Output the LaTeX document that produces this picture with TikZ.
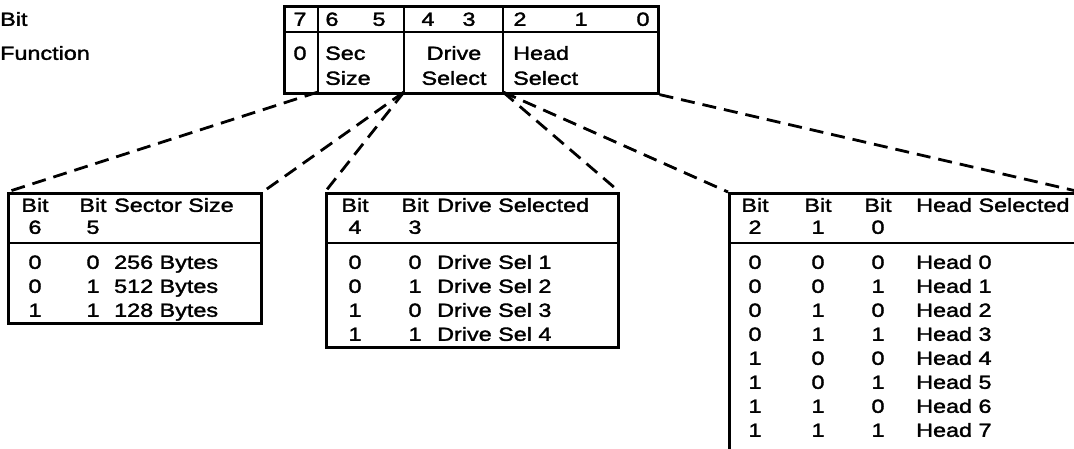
\documentclass[tikz,border=0pt]{standalone}
\usepackage{fontspec}
\newfontfamily\hv[FakeStretch=1.23,FakeBold=1.8]{Liberation Sans}
\begin{document}
\begin{tikzpicture}[x=1pt,y=-1pt,
  lbl/.style={font=\hv\fontsize{19}{22}\selectfont, inner sep=0pt, text height=13.6pt, text depth=0pt},
  lw/.style={lbl, anchor=west},
  lc/.style={lbl, anchor=center},
  frame/.style={draw, line width=2.6pt, inner sep=0pt, anchor=north west},
  rule/.style={line width=2.2pt},
  conn/.style={line width=2.8pt, dash pattern=on 14pt off 8pt}]
\useasboundingbox (0,0) rectangle (1074,448);

% labels on the left
\node[lw] (lbit) at (0,19) {Bit};
\node[lw] (lfun) at (0,53) {Function};

% register
\node[frame, minimum width=374pt, minimum height=87pt] (reg) at (283,5) {};
\coordinate (d1t) at (318,5);  \coordinate (d1b) at (318,92);
\coordinate (d2t) at (404,5);  \coordinate (d2b) at (404,92);
\coordinate (d3t) at (503,5);  \coordinate (d3b) at (503,92);
\coordinate (rl) at (283,32);  \coordinate (rr) at (657,32);
\draw[rule] (d1t) -- (d1b);
\draw[rule] (d2t) -- (d2b);
\draw[rule] (d3t) -- (d3b);
\draw[rule] (rl) -- (rr);

\node[lc] (b7) at (300,19) {7};
\node[lc] (b6) at (332,19) {6};
\node[lc] (b5) at (379,19) {5};
\node[lc] (b4) at (428,19) {4};
\node[lc] (b3) at (469,19) {3};
\node[lc] (b2) at (520,19) {2};
\node[lc] (b1) at (581,19) {1};
\node[lc] (b0) at (643,19) {0};

\node[lc] (f7) at (300,53) {0};
\node[lw] (fsec) at (325,53) {Sec};
\node[lw] (fsize) at (325,78) {Size};
\node[lc] (fdrv) at (454,53) {Drive};
\node[lc] (fdsel) at (454,78) {Select};
\node[lw] (fhead) at (513,53) {Head};
\node[lw] (fhsel) at (513,78) {Select};

% sector size table
\node[frame, minimum width=253pt, minimum height=130pt] (sec) at (7,192) {};
\coordinate (sl) at (7,243); \coordinate (sr) at (260,243);
\draw[rule] (sl) -- (sr);
\node[lc] (s11) at (35,205) {Bit};
\node[lc] (s12) at (93,205) {Bit};
\node[lw] (s13) at (114,205) {Sector Size};
\node[lc] (s21) at (35,227) {6};
\node[lc] (s22) at (93,227) {5};
\foreach \a/\b/\t [count=\i from 0] in {0/0/256 Bytes, 0/1/512 Bytes, 1/1/128 Bytes}{
  \node[lc] (sa\i) at (35,262+24*\i) {\a};
  \node[lc] (sb\i) at (93,262+24*\i) {\b};
  \node[lw] (st\i) at (114,262+24*\i) {\t};
}

% drive select table
\node[frame, minimum width=292pt, minimum height=154pt] (drv) at (325,192) {};
\coordinate (dl) at (325,243); \coordinate (dr) at (617,243);
\draw[rule] (dl) -- (dr);
\node[lc] (r11) at (355,205) {Bit};
\node[lc] (r12) at (415,205) {Bit};
\node[lw] (r13) at (437,205) {Drive Selected};
\node[lc] (r21) at (355,227) {4};
\node[lc] (r22) at (415,227) {3};
\foreach \a/\b/\t [count=\i from 0] in {0/0/Drive Sel 1, 0/1/Drive Sel 2, 1/0/Drive Sel 3, 1/1/Drive Sel 4}{
  \node[lc] (ra\i) at (355,262+24*\i) {\a};
  \node[lc] (rb\i) at (415,262+24*\i) {\b};
  \node[lw] (rt\i) at (437,262+24*\i) {\t};
}

% head select table
\node[frame, minimum width=350pt, minimum height=270pt] (hd) at (728,192) {};
\coordinate (hl) at (728,243); \coordinate (hr) at (1078,243);
\draw[rule] (hl) -- (hr);
\node[lc] (h11) at (755,205) {Bit};
\node[lc] (h12) at (818,205) {Bit};
\node[lc] (h13) at (878,205) {Bit};
\node[lw] (h14) at (916,205) {Head Selected};
\node[lc] (h21) at (755,227) {2};
\node[lc] (h22) at (818,227) {1};
\node[lc] (h23) at (878,227) {0};
\foreach \a/\b/\c/\t [count=\i from 0] in {0/0/0/Head 0, 0/0/1/Head 1, 0/1/0/Head 2, 0/1/1/Head 3, 1/0/0/Head 4, 1/0/1/Head 5, 1/1/0/Head 6, 1/1/1/Head 7}{
  \node[lc] (ha\i) at (755,262+24*\i) {\a};
  \node[lc] (hb\i) at (818,262+24*\i) {\b};
  \node[lc] (hc\i) at (878,262+24*\i) {\c};
  \node[lw] (ht\i) at (916,262+24*\i) {\t};
}

% dashed connectors
\draw[conn] (d1b) -- (sec.north west);
\draw[conn] (d2b) -- (sec.north east);
\draw[conn] (d2b) -- (drv.north west);
\draw[conn] (d3b) -- (drv.north east);
\draw[conn] (d3b) -- (hd.north west);
\draw[conn] (reg.south east) -- (hd.north east);
\end{tikzpicture}
\end{document}
